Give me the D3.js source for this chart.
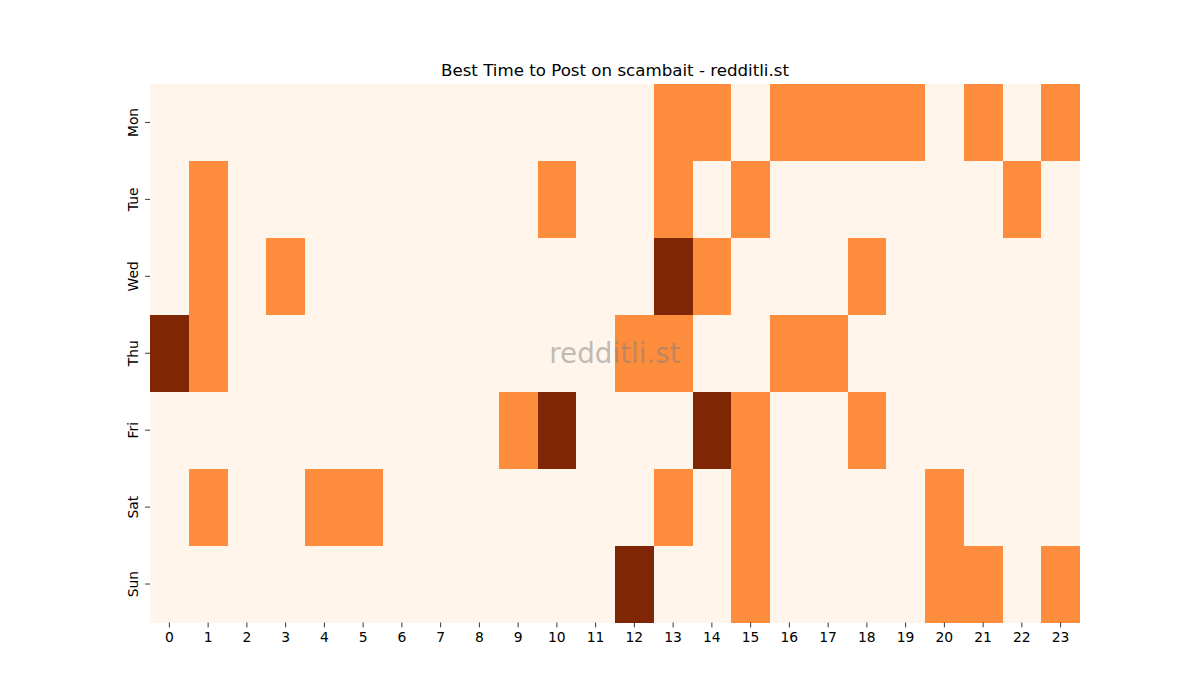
<!DOCTYPE html>
<meta charset="utf-8">
<title>Best Time to Post on scambait</title>
<style>
body { margin: 0; background: #fff; }
svg text { font-family: "DejaVu Sans", sans-serif; }
.tick line { stroke: #000; stroke-width: 0.8px; }
.tick text { font-size: 13.89px; fill: #000; }
.domain { display: none; }
</style>
<body>
<svg width="1200" height="700"></svg>
<script src="https://cdn.jsdelivr.net/npm/d3@7"></script>
<script>

var days = ["Mon", "Tue", "Wed", "Thu", "Fri", "Sat", "Sun"];
var hours = d3.range(24);

// one row per day, 24 hourly values (0 = low, 1 = good, 2 = best)
var mon = [0,0,0,0,0,0,0,0,0,0,0,0,0,1,1,0,1,1,1,1,0,1,0,1];
var tue = [0,1,0,0,0,0,0,0,0,0,1,0,0,1,0,1,0,0,0,0,0,0,1,0];
var wed = [0,1,0,1,0,0,0,0,0,0,0,0,0,2,1,0,0,0,1,0,0,0,0,0];
var thu = [2,1,0,0,0,0,0,0,0,0,0,0,1,1,0,0,1,1,0,0,0,0,0,0];
var fri = [0,0,0,0,0,0,0,0,0,1,2,0,0,0,2,1,0,0,1,0,0,0,0,0];
var sat = [0,1,0,0,1,1,0,0,0,0,0,0,0,1,0,1,0,0,0,0,1,0,0,0];
var sun = [0,0,0,0,0,0,0,0,0,0,0,0,2,0,0,1,0,0,0,0,1,1,0,1];

var rows = [mon, tue, wed, thu, fri, sat, sun];

var svg = d3.select("svg"),
    plotLeft = 150, plotRight = 1080, plotTop = 84, plotBottom = 622.5;

var x = d3.scaleBand().domain(hours).range([plotLeft, plotRight]);
var y = d3.scaleBand().domain(days).range([plotTop, plotBottom]);

var color = d3.scaleOrdinal()
    .domain([0, 1, 2])
    .range(["#fff5eb", "#fd8d3c", "#7f2704"]);

var cells = [];
rows.forEach(function (r, i) {
  r.forEach(function (v, h) {
    cells.push({day: days[i], hour: h, value: v});
  });
});

svg.append("g")
    .attr("shape-rendering", "crispEdges")
  .selectAll("rect")
  .data(cells)
  .enter().append("rect")
    .attr("x", function (d) { return x(d.hour); })
    .attr("y", function (d) { return y(d.day); })
    .attr("width", x.bandwidth())
    .attr("height", y.bandwidth())
    .attr("fill", function (d) { return color(d.value); });

var xAxis = svg.append("g")
    .attr("transform", "translate(0," + plotBottom + ")")
    .call(d3.axisBottom(x).tickSize(4.86).tickPadding(4.8));

xAxis.attr("font-family", null).attr("font-size", null);

var yAxis = svg.append("g")
    .attr("transform", "translate(" + plotLeft + ",0)")
    .call(d3.axisLeft(y).tickSize(4.86).tickPadding(4.8));

yAxis.attr("font-family", null).attr("font-size", null);

yAxis.selectAll(".tick text")
    .attr("transform", "rotate(-90)")
    .attr("x", 0)
    .attr("y", -17)
    .attr("dy", "0.35em")
    .style("text-anchor", "middle");

svg.append("text")
    .attr("x", (plotLeft + plotRight) / 2)
    .attr("y", plotTop - 8)
    .attr("text-anchor", "middle")
    .style("font-size", "16.67px")
    .text("Best Time to Post on scambait - redditli.st");

// watermark
svg.append("text")
    .attr("x", (plotLeft + plotRight) / 2)
    .attr("y", (plotTop + plotBottom) / 2)
    .attr("dy", "0.35em")
    .attr("text-anchor", "middle")
    .style("font-size", "27.78px")
    .attr("fill", "#808080")
    .attr("fill-opacity", 0.5)
    .text("redditli.st");

</script>
